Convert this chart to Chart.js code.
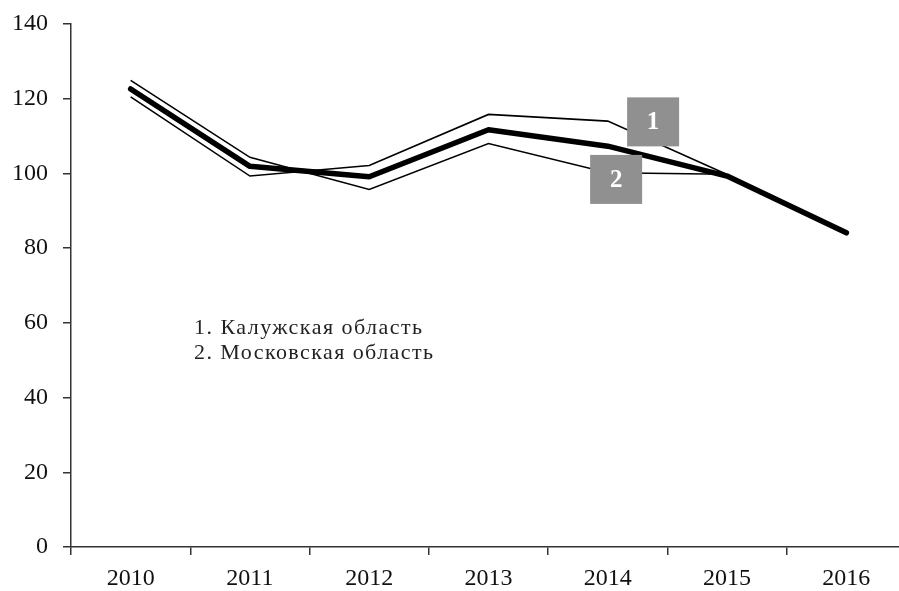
<!DOCTYPE html>
<html>
<head>
<meta charset="utf-8">
<script src="https://cdn.jsdelivr.net/npm/chart.js@4"></script>
<style>
  html, body { margin: 0; padding: 0; background: #fff; overflow: hidden; }
  #wrap { width: 899px; height: 591px; overflow: hidden; }
</style>
</head>
<body>
<div id="wrap"><canvas id="lineChart" width="906" height="591"></canvas></div>
<script>
'use strict';

const years = ['2010', '2011', '2012', '2013', '2014', '2015', '2016'];
const kaluga = [120.5, 99.3, 102.1, 115.8, 114.0, 99.7, null];
const moscow = [124.9, 104.3, 95.7, 108.0, 100.2, 99.8, null];
const mainLine = [122.6, 101.9, 99.1, 111.7, 107.3, 99.3, 84.1];
const legendLines = ['1. Калужская область', '2. Московская область'];
const legendWidths = [228, 239];
const markers = [
  { text: '1', x: 4.38, y: 113.8 },
  { text: '2', x: 4.07, y: 98.4 }
];

const serif = '"Liberation Serif", "DejaVu Serif", serif';

// grey numbered boxes and the text key inside the plot
const notes = {
  id: 'notes',
  afterDatasetsDraw(chart) {
    const ctx = chart.ctx;
    const xs = chart.scales.x, ys = chart.scales.y;
    ctx.save();
    markers.forEach(m => {
      const cx = xs.getPixelForValue(m.x), cy = ys.getPixelForValue(m.y);
      ctx.fillStyle = '#909090';
      ctx.fillRect(cx - 26, cy - 24.5, 52, 49);
      ctx.fillStyle = '#fff';
      ctx.font = 'bold 25px ' + serif;
      ctx.textAlign = 'center';
      ctx.textBaseline = 'middle';
      ctx.fillText(m.text, cx, cy + 1);
    });
    ctx.fillStyle = '#222';
    ctx.font = '22px ' + serif;
    ctx.textAlign = 'left';
    ctx.textBaseline = 'alphabetic';
    legendLines.forEach((t, i) => {
      ctx.letterSpacing = '0px';
      const w = ctx.measureText(t).width;
      const extra = Math.max(0, (legendWidths[i] - w) / (t.length - 1));
      ctx.letterSpacing = extra.toFixed(2) + 'px';
      ctx.fillText(t, chart.chartArea.left + 123, 334 + i * 25);
    });
    ctx.restore();
  }
};

const lineCtx = document.getElementById('lineChart').getContext('2d');
const lineChart = new Chart(lineCtx, {
  type: 'line',
  data: {
    labels: years,
    datasets: [{
      label: 'Калужская область',
      data: kaluga,
      borderColor: '#000',
      borderWidth: 1.6,
      pointRadius: 0,
      tension: 0,
      order: 2
    }, {
      label: 'Московская область',
      data: moscow,
      borderColor: '#000',
      borderWidth: 1.6,
      pointRadius: 0,
      tension: 0,
      order: 3
    }, {
      label: 'Итого',
      data: mainLine,
      borderColor: '#000',
      borderWidth: 5.5,
      borderCapStyle: 'round',
      borderJoinStyle: 'round',
      pointRadius: 0,
      tension: 0,
      order: 1
    }]
  },
  options: {
    responsive: false,
    animation: false,
    layout: { padding: { top: 24, right: 0 } },
    plugins: {
      legend: { display: false },
      tooltip: { enabled: false }
    },
    scales: {
      x: {
        offset: true,
        border: { color: '#333', width: 1.5 },
        grid: { offset: true, drawOnChartArea: false, tickLength: 8, color: '#333', lineWidth: 1.5 },
        ticks: { color: '#111', font: { family: serif, size: 24 }, padding: 9, maxRotation: 0 },
        afterFit(scale) { scale.height = 44; scale.paddingLeft = 0; scale.paddingRight = 0; }
      },
      y: {
        min: 0,
        max: 140,
        border: { color: '#333', width: 1.5 },
        grid: { drawOnChartArea: false, tickLength: 8, color: '#333', lineWidth: 1.5 },
        ticks: { stepSize: 20, color: '#111', font: { family: serif, size: 24 }, padding: 15 },
        afterFit(scale) { scale.width = 71; scale.paddingTop = 0; scale.paddingBottom = 0; }
      }
    }
  },
  plugins: [notes]
});
</script>
</body>
</html>
